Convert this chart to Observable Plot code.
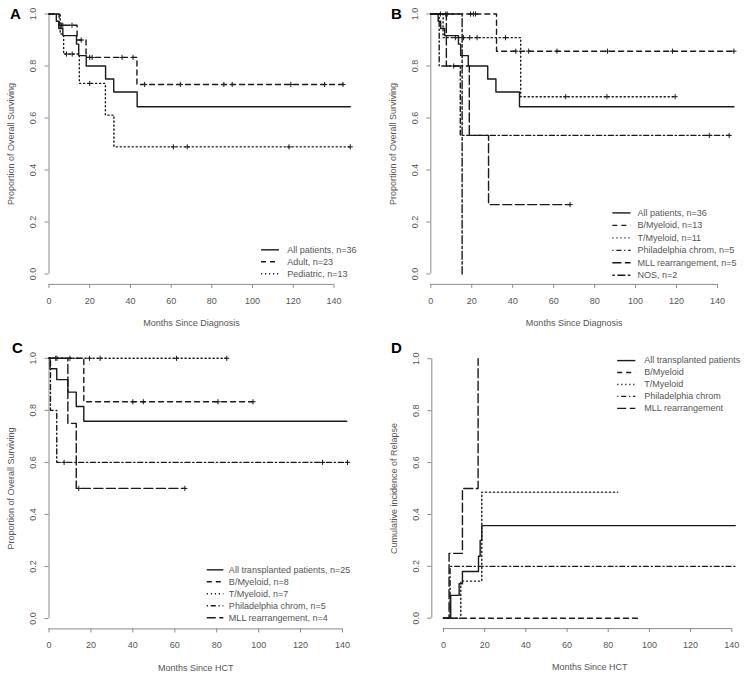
<!DOCTYPE html>
<html><head><meta charset="utf-8">
<script src="https://cdn.jsdelivr.net/npm/d3@7"></script>
<script src="https://cdn.jsdelivr.net/npm/@observablehq/plot@0.6"></script>
<style>
body{margin:0;background:#fff;}
#wrap{position:relative;width:754px;height:678px;background:#fff;overflow:hidden}
#wrap svg{position:absolute}
</style></head><body><div id="wrap"></div>
<script>
// ---------- tick labels ----------
const xTicks = [0, 20, 40, 60, 80, 100, 120, 140];
const yTicks = [0, 0.2, 0.4, 0.6, 0.8, 1.0];

// ---------- Panel A ----------
const aLegend = ["All patients, n=36", "Adult, n=23", "Pediatric, n=13"];
const aTimesAll = [0, 3.6, 4.8, 6.8, 13.5, 14.6, 18.3, 27.8, 31.8, 43.3, 148];
const aSurvAll  = [1, 0.972, 0.944, 0.917, 0.884, 0.84, 0.80, 0.75, 0.70, 0.643, 0.643];
const aTimesAdult = [0, 5, 13.8, 18.2, 43.2, 146.6];
const aSurvAdult  = [1, 0.957, 0.90, 0.833, 0.729, 0.729];
const aCensAdult  = [6.2, 6.8, 11.3, 15.8, 20, 21.2, 35.9, 41.3, 47, 64.5, 85.9, 90, 118.8, 135.4, 144.4];
const aTimesPed = [0, 5.5, 7.2, 14.9, 27.7, 31.9, 148];
const aSurvPed  = [1, 0.923, 0.846, 0.733, 0.611, 0.489, 0.489];
const aCensPed  = [8.6, 11.4, 20, 61.1, 67.9, 117.9, 148];

// ---------- Panel B ----------
const bLegend = ["All patients, n=36", "B/Myeloid, n=13", "T/Myeloid, n=11", "Philadelphia chrom, n=5", "MLL rearrangement, n=5", "NOS, n=2"];
const bTimesAll = aTimesAll;
const bSurvAll  = aSurvAll;
const bTimesBMy = [0, 32.1, 148];
const bSurvBMy  = [1, 0.857, 0.857];
const bCensBMy  = [4.7, 7.3, 8, 19.4, 20.8, 21.8, 41.5, 47.8, 61.6, 86.3, 118, 148];
const bTimesTMy = [0, 6, 43.9, 119.3];
const bSurvTMy  = [1, 0.909, 0.682, 0.682];
const bCensTMy  = [12, 16, 19, 22.6, 36.5, 65.9, 86, 119.3];
const bTimesPh  = [0, 4.1, 14.4, 145.7];
const bSurvPh   = [1, 0.8, 0.533, 0.533];
const bCensPh   = [11.2, 136, 145.7];
const bTimesMLL = [0, 7.6, 18.8, 28.2, 68];
const bSurvMLL  = [1, 0.8, 0.533, 0.267, 0.267];
const bCensMLL  = [68];
const bTimesNOS = [0, 15.3];
const bSurvNOS  = [1, 0];

// ---------- Panel C ----------
const cLegend = ["All transplanted patients, n=25", "B/Myeloid, n=8", "T/Myeloid, n=7", "Philadelphia chrom, n=5", "MLL rearrangement, n=4"];
const cTimesAll = [0, 0.5, 3.7, 9.0, 13.0, 16.6, 142];
const cSurvAll  = [1, 0.96, 0.918, 0.87, 0.815, 0.758, 0.758];
const cTimesBMy = [0, 16.6, 97.3];
const cSurvBMy  = [1, 0.833, 0.833];
const cCensBMy  = [40, 45, 80.6, 97.3];
const cTimesTMy = [0, 84.8];
const cSurvTMy  = [1, 1];
const cCensTMy  = [3.2, 3.8, 10, 19.3, 24.4, 60.8, 84.8];
const cTimesPh  = [0, 0.7, 3.7, 142.4];
const cSurvPh   = [1, 0.8, 0.6, 0.6];
const cCensPh   = [7.2, 130.5, 142.4];
const cTimesMLL = [0, 9.0, 13.0, 64.8];
const cSurvMLL  = [1, 0.75, 0.5, 0.5];
const cCensMLL  = [14.2, 64.8];

// ---------- Panel D ----------
const dLegend = ["All transplanted patients", "B/Myeloid", "T/Myeloid", "Philadelphia chrom", "MLL rearrangement"];
const dTimesAll = [0, 3.5, 7.6, 9.2, 17.0, 17.8, 18.6, 141.7];
const dIncAll   = [0, 0.088, 0.133, 0.18, 0.239, 0.30, 0.357, 0.357];
const dTimesBMy = [0, 95.4];
const dIncBMy   = [0, 0];
const dTimesTMy = [0, 8.4, 18.6, 84.6];
const dIncTMy   = [0, 0.143, 0.486, 0.486];
const dTimesPh  = [0, 3.2, 141.7];
const dIncPh    = [0, 0.2, 0.2];
const dTimesMLL = [0, 2.7, 9.2, 16.8];
const dIncMLL   = [0, 0.25, 0.5, 1.0];

// ---------- styles ----------
const DASH = {solid: null, dashed: "5,4", dotted: "1.2,2.8", dotdash: "1.2,2.8,5,2.8", longdash: "9,3.5", twodash: "2.5,2.5,8,2.5"};
const lineCol = "#1a1a1a", axisCol = "#8a8a8a", textCol = "#555";
const FONT = "'Liberation Sans', Arial, Helvetica, sans-serif";

function rows(times, vals) { return times.map((t, i) => ({t, v: vals[i]})); }
function stepValue(times, vals, t) { let v = vals[0]; for (let i = 0; i < times.length; i++) if (times[i] <= t) v = vals[i]; return v; }

function panel(cfg) {
  const marks = [];
  // axis lines
  marks.push(Plot.ruleY([-0.04], {x1: xTicks[0], x2: xTicks[xTicks.length - 1], stroke: axisCol, strokeWidth: 1}));
  marks.push(Plot.ruleX([cfg.xDomain[0]], {y1: yTicks[0], y2: yTicks[yTicks.length - 1], stroke: axisCol, strokeWidth: 1}));
  marks.push(Plot.axisX(xTicks, {tickSize: 4, tickPadding: 9, stroke: axisCol, fill: textCol, label: null, fontSize: 9}));
  marks.push(Plot.axisY(yTicks, {tickSize: 4, tickFormat: () => "", stroke: axisCol, label: null}));
  marks.push(Plot.text(yTicks, {x: cfg.xDomain[0], y: d => d, text: d3.format(".1f"), rotate: -90, dx: -16, textAnchor: "middle", lineAnchor: "middle", fill: textCol, fontSize: 9}));
  // curves
  cfg.series.forEach(s => {
    marks.push(Plot.line(rows(s.t, s.v), {x: "t", y: "v", curve: "step-after", stroke: lineCol, strokeWidth: 1.4, strokeDasharray: DASH[s.dash]}));
    if (s.c) marks.push(Plot.dot(s.c.map(t => ({t, v: stepValue(s.t, s.v, t)})), {x: "t", y: "v", symbol: "plus", r: 1.8, stroke: lineCol, strokeWidth: 1}));
  });
  // legend
  const L = cfg.legend;
  cfg.series.forEach((s, i) => {
    const y = L.y0 - i * L.step;
    marks.push(Plot.ruleY([y], {x1: L.x1, x2: L.x2, stroke: lineCol, strokeWidth: 1.4, strokeDasharray: DASH[s.dash]}));
    marks.push(Plot.text([L.labels[i]], {x: L.xt, y: y, text: d => d, textAnchor: "start", lineAnchor: "middle", fill: textCol, fontSize: 9}));
  });
  // titles
  marks.push(Plot.text([cfg.xLabel], {frameAnchor: "bottom", dy: 39, text: d => d, lineAnchor: "middle", fill: textCol, fontSize: 9}));
  marks.push(Plot.text([cfg.yLabel], {frameAnchor: "left", dx: -38, rotate: -90, text: d => d, lineAnchor: "middle", textAnchor: "middle", fill: textCol, fontSize: 9}));
  marks.push(Plot.text([cfg.letter], {frameAnchor: "top-left", dx: cfg.ldx, dy: cfg.ldy, text: d => d, fontWeight: "bold", fontSize: 15, fill: "#000", textAnchor: "middle", lineAnchor: "middle"}));

  const svg = Plot.plot({
    width: cfg.width, height: cfg.height,
    marginLeft: cfg.m[0], marginRight: cfg.m[1], marginTop: cfg.m[2], marginBottom: cfg.m[3],
    x: {domain: cfg.xDomain},
    y: {domain: [-0.04, 1.04]},
    style: {fontFamily: FONT, fontSize: "9px", background: "transparent", overflow: "visible"},
    marks
  });
  svg.style.left = cfg.left + "px";
  svg.style.top = cfg.top + "px";
  document.getElementById("wrap").appendChild(svg);
}

panel({
  left: 0, top: 0, width: 377, height: 339, m: [48.5, 43.5, 3.1, 55.1], xDomain: [0, 140],
  letter: "A", ldx: -33.5, ldy: 11,
  xLabel: "Months Since Diagnosis", yLabel: "Proportion of Overall Surviving",
  series: [
    {t: aTimesAll, v: aSurvAll, dash: "solid"},
    {t: aTimesAdult, v: aSurvAdult, c: aCensAdult, dash: "dashed"},
    {t: aTimesPed, v: aSurvPed, c: aCensPed, dash: "dotted"}
  ],
  legend: {labels: aLegend, x1: 104.4, x2: 113.2, xt: 117, y0: 0.093, step: 0.046}
});

panel({
  left: 377, top: 0, width: 377, height: 339, m: [53.3, 37, 3.1, 55.1], xDomain: [0, 140],
  letter: "B", ldx: -34.3, ldy: 11,
  xLabel: "Months Since Diagnosis", yLabel: "Proportion of Overall Surviving",
  series: [
    {t: bTimesAll, v: bSurvAll, dash: "solid"},
    {t: bTimesBMy, v: bSurvBMy, c: bCensBMy, dash: "dashed"},
    {t: bTimesTMy, v: bSurvTMy, c: bCensTMy, dash: "dotted"},
    {t: bTimesPh, v: bSurvPh, c: bCensPh, dash: "dotdash"},
    {t: bTimesMLL, v: bSurvMLL, c: bCensMLL, dash: "longdash"},
    {t: bTimesNOS, v: bSurvNOS, dash: "twodash"}
  ],
  legend: {labels: bLegend, x1: 88.9, x2: 97.8, xt: 100.9, y0: 0.235, step: 0.048}
});

panel({
  left: 0, top: 339, width: 377, height: 339, m: [48.5, 35, 8.4, 49.6], xDomain: [0, 140],
  letter: "C", ldx: -31.5, ldy: 0,
  xLabel: "Months Since HCT", yLabel: "Proportion of Overall Surviving",
  series: [
    {t: cTimesAll, v: cSurvAll, dash: "solid"},
    {t: cTimesBMy, v: cSurvBMy, c: cCensBMy, dash: "dashed"},
    {t: cTimesTMy, v: cSurvTMy, c: cCensTMy, dash: "dotted"},
    {t: cTimesPh, v: cSurvPh, c: cCensPh, dash: "dotdash"},
    {t: cTimesMLL, v: cSurvMLL, c: cCensMLL, dash: "longdash"}
  ],
  legend: {labels: cLegend, x1: 75.5, x2: 83.4, xt: 85.8, y0: 0.187, step: 0.046}
});

panel({
  left: 377, top: 339, width: 377, height: 339, m: [54.3, 6.9, 8.9, 49.9], xDomain: [-5.68, 147.68],
  letter: "D", ldx: -35.5, ldy: 0,
  xLabel: "Months Since HCT", yLabel: "Cumulative incidence of Relapse",
  series: [
    {t: dTimesAll, v: dIncAll, dash: "solid"},
    {t: dTimesBMy, v: dIncBMy, dash: "dashed"},
    {t: dTimesTMy, v: dIncTMy, dash: "dotted"},
    {t: dTimesPh, v: dIncPh, dash: "dotdash"},
    {t: dTimesMLL, v: dIncMLL, dash: "longdash"}
  ],
  legend: {labels: dLegend, x1: 84.6, x2: 93.4, xt: 97.5, y0: 0.993, step: 0.046}
});
</script>
</body></html>
